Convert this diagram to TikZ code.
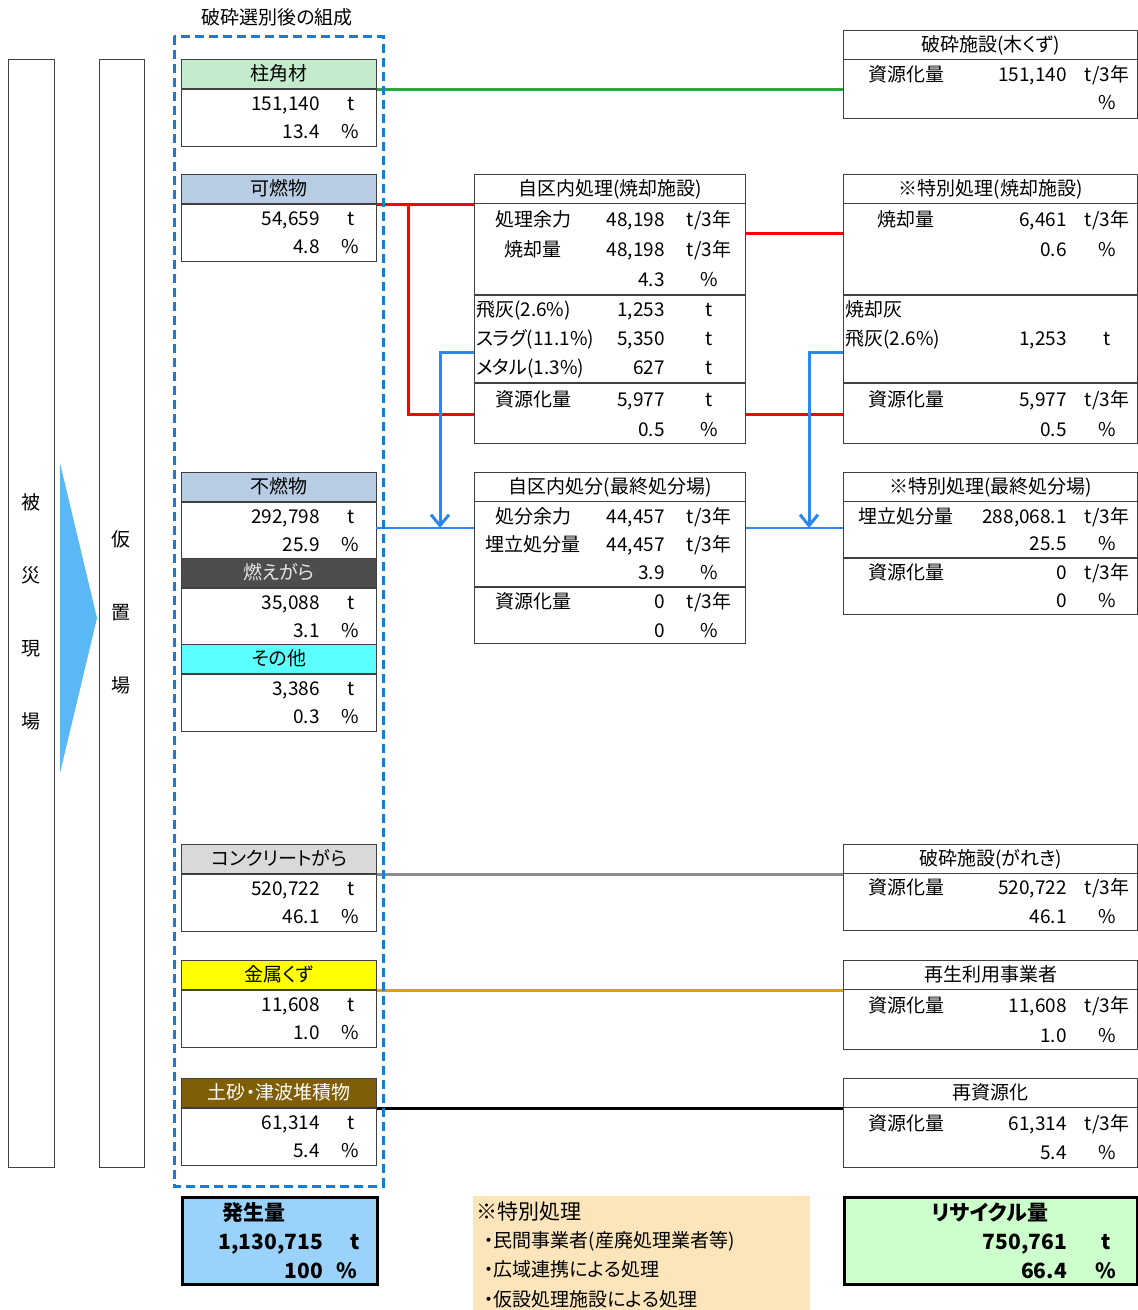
\documentclass[tikz,border=0pt]{standalone}
\usepackage{fontspec}
\setmainfont{Noto Sans CJK JP}[RawFeature=+palt]
\usetikzlibrary{arrows.meta}
\definecolor{edgeGrey}{RGB}{64,64,64}
\definecolor{hdrWood}{RGB}{196,236,204}
\definecolor{hdrBurn}{RGB}{184,204,228}
\definecolor{hdrAsh}{RGB}{77,77,77}
\definecolor{hdrOther}{RGB}{92,255,255}
\definecolor{hdrConc}{RGB}{217,217,217}
\definecolor{hdrMetal}{RGB}{255,255,0}
\definecolor{hdrSoil}{RGB}{128,94,8}
\definecolor{dashBlue}{RGB}{20,125,215}
\definecolor{flowBlue}{RGB}{45,135,240}
\definecolor{woodLine}{RGB}{40,170,60}
\definecolor{metalLine}{RGB}{225,160,0}
\definecolor{concLine}{RGB}{140,140,140}
\definecolor{arrowBlue}{RGB}{90,185,245}
\definecolor{totalBlue}{RGB}{155,210,250}
\definecolor{noteTan}{RGB}{252,229,186}
\definecolor{recycleGreen}{RGB}{204,255,204}
\tikzset{
    box/.style={draw=edgeGrey, line width=1.2pt, inner sep=0pt, anchor=north west},
    txt/.style={inner sep=0pt, text height=14.5pt, text depth=1.5pt, font=\fontsize{19}{21}\selectfont},
    bigtxt/.style={inner sep=0pt, text height=16pt, text depth=2pt, font=\fontsize{21}{24}\selectfont\bfseries},
    link/.style={line width=3pt},
    flow/.style={draw=flowBlue, line width=3pt, -{Straight Barb[length=11pt, width=18pt]}}
}
\newcommand*{\itemBox}[7]{% name, top, label, fill, label colour, tonnes, percent
    \node[box, txt, fill=#4, text=#5, minimum width=195pt, minimum height=29pt] (#1) at (181,#2) {#3};
    \node[box, minimum width=195pt, minimum height=57pt] (#1b) at (#1.south west) {};
    \node[txt, anchor=east] (#1n) at (320,#2+45) {#6};
    \node[txt] (#1t) at (351,#2+45) {t};
    \node[txt, anchor=east] (#1p) at (320,#2+73) {#7};
    \node[txt] (#1u) at (350,#2+73) {\%};
}
\newcommand*{\facBox}[6]{% name, left, top, width, height, title
    \node[box, minimum width=#4pt, minimum height=#5pt] (#1) at (#2,#3) {};
    \node[box, txt, minimum width=#4pt, minimum height=29pt] (#1h) at (#2,#3) {#6};
}
\newcommand*{\divider}[2]{\draw[edgeGrey, line width=1.2pt] (#1.west |- 0,#2) -- (#1.east |- 0,#2);}
\newcommand*{\midRow}[5]{% name, y, label, amount, unit
    \node[txt] (#1l) at (533,#2) {#3};
    \node[txt, anchor=east] (#1n) at (665,#2) {#4};
    \node[txt] (#1u) at (709,#2) {#5};
}
\newcommand*{\sideRow}[5]{% name, y, label, amount, unit
    \node[txt] (#1l) at (906,#2) {#3};
    \node[txt, anchor=east] (#1n) at (1067,#2) {#4};
    \node[txt] (#1u) at (1107,#2) {#5};
}

\begin{document}
\begin{tikzpicture}[x=1pt, y=-1pt]
\useasboundingbox (0,0) rectangle (1138,1310);
% disaster site -> temporary yard
\node[box, minimum width=46pt, minimum height=1108pt] (site) at (8,59) {};
\node[box, minimum width=45pt, minimum height=1108pt] (yard) at (99,59) {};
\fill[arrowBlue] (60,463) -- (97,618) -- (60,773) -- cycle;
\foreach \ch [count=\i] in {被,災,現,場}
    \node[txt] (site\i) at (31,430+73*\i) {\ch};
\foreach \ch [count=\i] in {仮,置,場}
    \node[txt] (yard\i) at (121,467+73*\i) {\ch};
% composition after sorting
\node[txt] (title) at (277,18) {破砕選別後の組成};
\itemBox{wood}{59}{柱角材}{hdrWood}{black}{151,140}{13.4}
\itemBox{burn}{174}{可燃物}{hdrBurn}{black}{54,659}{4.8}
\itemBox{nonb}{472}{不燃物}{hdrBurn}{black}{292,798}{25.9}
\itemBox{ash}{558}{燃えがら}{hdrAsh}{white!90!black}{35,088}{3.1}
\itemBox{other}{644}{その他}{hdrOther}{black}{3,386}{0.3}
\itemBox{conc}{844}{コンクリートがら}{hdrConc}{black}{520,722}{46.1}
\itemBox{metal}{960}{金属くず}{hdrMetal}{black}{11,608}{1.0}
\itemBox{soil}{1078}{土砂・津波堆積物}{hdrSoil}{white}{61,314}{5.4}
% in-ward facilities
\facBox{mid1}{474}{174}{271}{269}{自区内処理(焼却施設)}
\divider{mid1}{295}
\divider{mid1}{383}
\midRow{ma}{220}{処理余力}{48,198}{t/3年}
\midRow{mb}{250}{焼却量}{48,198}{t/3年}
\midRow{mc}{280}{}{4.3}{\%}
\midRow{md}{310}{}{1,253}{t}
\midRow{me}{339}{}{5,350}{t}
\midRow{mf}{368}{}{627}{t}
\node[txt, anchor=west] (flyA) at (476,310) {飛灰(2.6\%)};
\node[txt, anchor=west] (slagA) at (476,339) {スラグ(11.1\%)};
\node[txt, anchor=west] (metalA) at (476,368) {メタル(1.3\%)};
\midRow{mg}{400}{資源化量}{5,977}{t}
\midRow{mh}{430}{}{0.5}{\%}
\facBox{mid2}{474}{472}{271}{171}{自区内処分(最終処分場)}
\divider{mid2}{587}
\midRow{na}{517}{処分余力}{44,457}{t/3年}
\midRow{nb}{545}{埋立処分量}{44,457}{t/3年}
\midRow{nc}{573}{}{3.9}{\%}
\midRow{nd}{602}{資源化量}{0}{t/3年}
\midRow{ne}{631}{}{0}{\%}
% outside facilities
\facBox{woodFac}{843}{30}{294}{88}{破砕施設(木くず)}
\sideRow{ra}{75}{資源化量}{151,140}{t/3年}
\sideRow{rb}{103}{}{}{\%}
\facBox{spec1}{843}{174}{294}{269}{※特別処理(焼却施設)}
\divider{spec1}{295}
\divider{spec1}{383}
\sideRow{sa}{220}{焼却量}{6,461}{t/3年}
\sideRow{sb}{250}{}{0.6}{\%}
\node[txt, anchor=west] (ashB) at (845,310) {焼却灰};
\node[txt, anchor=west] (flyB) at (845,339) {飛灰(2.6\%)};
\sideRow{sc}{339}{}{1,253}{t}
\sideRow{sd}{400}{資源化量}{5,977}{t/3年}
\sideRow{se}{430}{}{0.5}{\%}
\facBox{spec2}{843}{472}{294}{142}{※特別処理(最終処分場)}
\divider{spec2}{558}
\sideRow{ta}{517}{埋立処分量}{288,068.1}{t/3年}
\sideRow{tb}{544}{}{25.5}{\%}
\sideRow{tc}{573}{資源化量}{0}{t/3年}
\sideRow{td}{601}{}{0}{\%}
\facBox{concFac}{843}{844}{294}{86}{破砕施設(がれき)}
\sideRow{ua}{888}{資源化量}{520,722}{t/3年}
\sideRow{ub}{917}{}{46.1}{\%}
\facBox{metalFac}{843}{960}{294}{89}{再生利用事業者}
\sideRow{va}{1006}{資源化量}{11,608}{t/3年}
\sideRow{vb}{1036}{}{1.0}{\%}
\facBox{soilFac}{843}{1078}{294}{89}{再資源化}
\sideRow{wa}{1124}{資源化量}{61,314}{t/3年}
\sideRow{wb}{1153}{}{5.4}{\%}
% flows
\draw[link, woodLine] (wood.south east) -- (wood.south east -| woodFac.west);
\draw[link, red] (burn.south east) -- (burn.south east -| mid1.west);
\coordinate (redTurn) at (408,414);
\draw[link, red] (burn.south east -| redTurn) |- (redTurn -| mid1.west);
\coordinate (burnOut) at (745,233);
\draw[link, red] (burnOut) -- (burnOut -| spec1.west);
\draw[link, red] (redTurn -| mid1.east) -- (redTurn -| spec1.west);
\coordinate (slagOut) at (474,352);
\coordinate (slagDrop) at (440,528);
\draw[flow] (slagOut) -| (slagDrop);
\coordinate (ashOut) at (843,352);
\coordinate (ashDrop) at (809,528);
\draw[flow] (ashOut) -| (ashDrop);
\coordinate (landLine) at (376,528);
\draw[flowBlue, line width=2pt] (landLine) -- (landLine -| mid2.west);
\draw[flowBlue, line width=2pt] (landLine -| mid2.east) -- (landLine -| spec2.west);
\draw[link, concLine] (conc.south east) -- (conc.south east -| concFac.west);
\draw[link, metalLine] (metal.south east) -- (metal.south east -| metalFac.west);
\draw[link, black] (soil.south east) -- (soil.south east -| soilFac.west);
\draw[dashBlue, line width=3pt, dash pattern=on 9pt off 5pt] (174,36) rectangle (383,1186);
% totals and note
\node[box, draw=black, line width=2.5pt, fill=totalBlue, minimum width=195pt, minimum height=87pt] (total) at (181,1196) {};
\node[bigtxt, anchor=west] (totalT) at (222,1213) {発生量};
\node[bigtxt, anchor=east] (totalN) at (323,1242) {1,130,715};
\node[bigtxt] (totalU) at (355,1242) {t};
\node[bigtxt, anchor=east] (totalP) at (323,1271) {100};
\node[bigtxt] (totalPU) at (347,1271) {\%};
\node[fill=noteTan, inner sep=0pt, anchor=north west, minimum width=337pt, minimum height=114pt] (note) at (473,1196) {};
\node[inner sep=0pt, anchor=west, font=\fontsize{21}{24}\selectfont] (noteT) at (476,1212) {※特別処理};
\foreach \ln [count=\i] in {民間事業者(産廃処理業者等),広域連携による処理,仮設処理施設による処理}
    \node[txt, anchor=west] (note\i) at (484,1211+29.5*\i) {・\ln};
\node[box, draw=black, line width=2.5pt, fill=recycleGreen, minimum width=293pt, minimum height=87pt] (recycle) at (843,1196) {};
\node[bigtxt] (recycleT) at (990,1213) {リサイクル量};
\node[bigtxt, anchor=east] (recycleN) at (1067,1242) {750,761};
\node[bigtxt] (recycleU) at (1106,1242) {t};
\node[bigtxt, anchor=east] (recycleP) at (1067,1271) {66.4};
\node[bigtxt] (recyclePU) at (1106,1271) {\%};
\end{tikzpicture}
\end{document}
